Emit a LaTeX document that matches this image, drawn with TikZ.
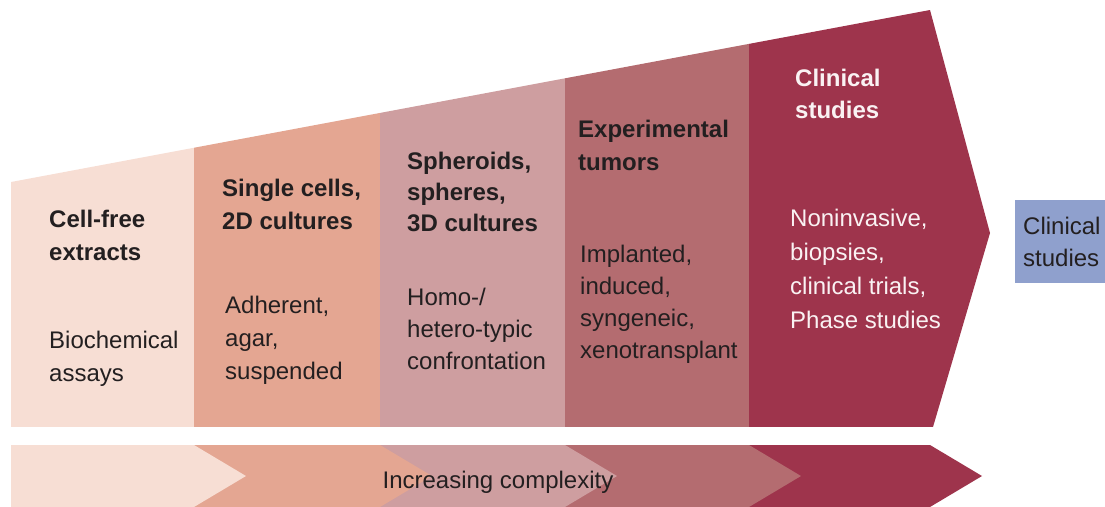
\documentclass[tikz,border=0pt]{standalone}
\usepackage{fontspec}
\setmainfont{Liberation Sans}
\usetikzlibrary{positioning}
\definecolor{segA}{HTML}{F7DED4}
\definecolor{segB}{HTML}{E4A692}
\definecolor{segC}{HTML}{CE9EA0}
\definecolor{segD}{HTML}{B46C70}
\definecolor{segE}{HTML}{9E344C}
\definecolor{boxblue}{HTML}{8FA0CD}
\definecolor{txtdark}{HTML}{231F20}
\definecolor{txtlight}{HTML}{FAF2F3}

\begin{document}
\begin{tikzpicture}[
x=1pt,y=-1pt,
head/.style={
  anchor=base west,
  inner sep=0pt,
  align=left,
  text=txtdark,
  font=\fontsize{24}{33}\selectfont\bfseries
  },
body/.style={
  anchor=base west,
  inner sep=0pt,
  align=left,
  text=txtdark,
  font=\fontsize{24}{33}\selectfont
  },
sidebox/.style={
  anchor=north west,
  fill=boxblue,
  inner xsep=8pt,
  inner ysep=0pt,
  minimum height=83pt,
  text width=100pt,
  align=left,
  text=txtdark,
  font=\fontsize{24}{32}\selectfont
  }
]
\useasboundingbox (0,0) rectangle (1105,506);

% big arrow with five stages
\begin{scope}
\clip (11,182) -- (930,10) -- (990,233) -- (933,427) -- (11,427) -- cycle;
\fill[segA] (11,0) rectangle (194,427);
\fill[segB] (194,0) rectangle (380,427);
\fill[segC] (380,0) rectangle (565,427);
\fill[segD] (565,0) rectangle (749,427);
\fill[segE] (749,0) rectangle (1000,427);
\end{scope}

% complexity band
\foreach \x/\c in {930/segE,749/segD,565/segC,380/segB,194/segA}
  \fill[\c] (11,445) -- (\x,445) -- (\x+52,476) -- (\x,507) -- (11,507) -- cycle;
\node[body,anchor=base] (complexity) at (498,488) {Increasing complexity};

% texts, placed at the baseline of their last line
\node[head] (cellfree) at (49,260) {Cell-free\\extracts};
\node[body] (cellfreetxt) at (49,381) {Biochemical\\assays};

\node[head] (single) at (222,229) {Single cells,\\2D cultures};
\node[body] (singletxt) at (225,379) {Adherent,\\agar,\\suspended};

\node[head,font=\fontsize{24}{31}\selectfont\bfseries] (spheroids) at (407,231) {Spheroids,\\spheres,\\3D cultures};
\node[body,font=\fontsize{24}{32}\selectfont] (spheroidstxt) at (407,369) {Homo-/\\hetero-typic\\confrontation};

\node[head] (tumors) at (578,170) {Experimental\\tumors};
\node[body,font=\fontsize{24}{32}\selectfont] (tumorstxt) at (580,358) {Implanted,\\induced,\\syngeneic,\\xenotransplant};

\node[head,text=txtlight,font=\fontsize{24}{32}\selectfont\bfseries] (clinical) at (795,118) {Clinical\\studies};
\node[body,text=txtlight,font=\fontsize{24}{34}\selectfont] (clinicaltxt) at (790,328) {Noninvasive,\\biopsies,\\clinical trials,\\Phase studies};

\node[sidebox] (clinicalbox) at (1015,200) {Clinical\\studies};
\end{tikzpicture}
\end{document}
